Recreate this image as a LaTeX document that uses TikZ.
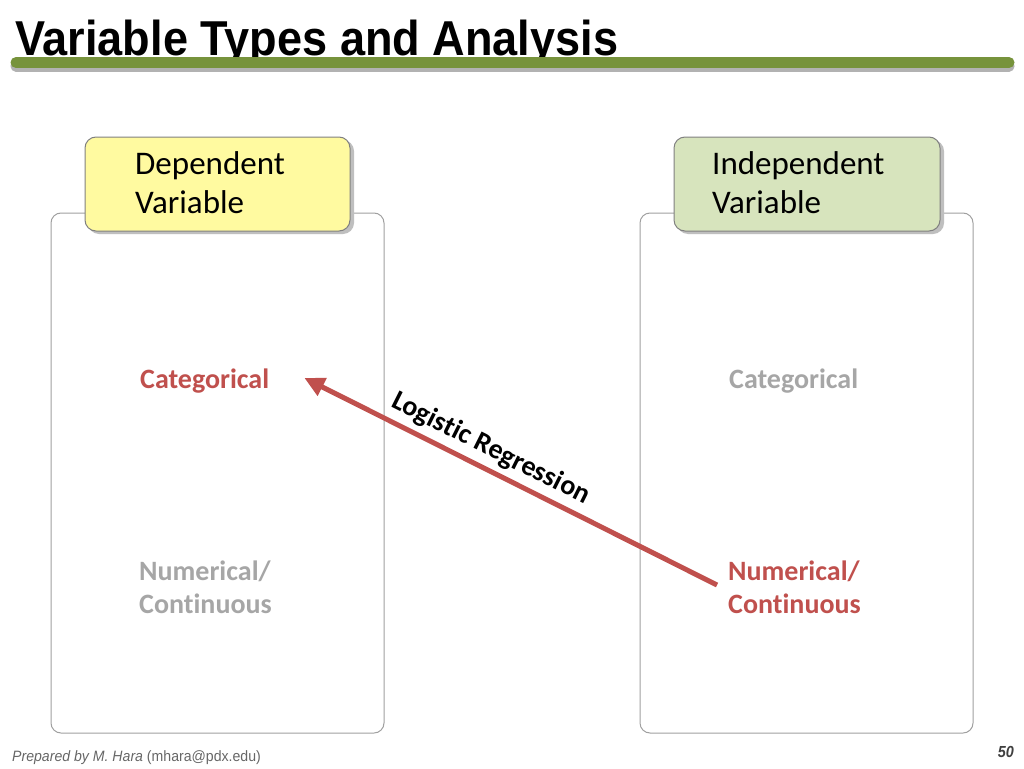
\documentclass[tikz,border=0pt]{standalone}
\usepackage{fontspec}
\setmainfont[Ligatures=NoCommon]{Carlito}
\newfontfamily\arialf{Liberation Sans}
\usetikzlibrary{calc,arrows.meta}
\definecolor{barGreen}{HTML}{77933C}
\definecolor{hdrYellow}{HTML}{FFFAA0}
\definecolor{hdrGreen}{HTML}{D7E4BD}
\definecolor{redTxt}{HTML}{C0504D}
\definecolor{grayTxt}{HTML}{A6A6A6}
\definecolor{boxLine}{HTML}{A0A0A0}
\tikzset{
  panel/.style={draw=boxLine, line width=1pt, rounded corners=10pt, fill=white},
  header/.style={draw=boxLine!80!black, line width=1pt, rounded corners=11pt},
  hdrshadow/.style={fill=black!25, rounded corners=11pt},
  hdrtext/.style={anchor=base west, align=left, inner sep=0pt, font=\fontsize{33}{39}\selectfont},
  cat/.style={anchor=base west, align=left, inner sep=0pt, font=\fontsize{28}{33}\selectfont\bfseries},
  arrowline/.style={draw=redTxt, line width=5pt, -{Triangle[length=20pt,width=19pt]}}
}
\begin{document}
\begin{tikzpicture}[x=1pt,y=-1pt]
\useasboundingbox (0,0) rectangle (1024,768);
% title
\node[anchor=base west, inner sep=0pt, font=\arialf\bfseries\fontsize{49}{52}\selectfont, xscale=0.92] (title) at (15,55.5) {Variable Types and Analysis};
% bar
\draw[line width=11pt, line cap=round, black!30] (16,66) -- (1009,66);
\draw[line width=11pt, line cap=round, barGreen] (16,62.5) -- (1009,62.5);
% panels
\draw[panel] (51,213) rectangle (384,733);
\draw[panel] (640,213) rectangle (973,733);
% headers
\fill[hdrshadow] (88,140) rectangle (354,234);
\draw[header, fill=hdrYellow] (85,137) rectangle (350,231);
\fill[hdrshadow] (677,140) rectangle (944,234);
\draw[header, fill=hdrGreen] (674,137) rectangle (940,231);
\node[hdrtext] (depT) at (135,213) {Dependent\\Variable};
\node[hdrtext] (indT) at (712,213) {Independent\\Variable};
% categories
\node[cat, text=redTxt] (catL) at (140,388) {Categorical};
\node[cat, text=grayTxt] (numL) at (139,613) {Numerical/\\Continuous};
\node[cat, text=grayTxt] (catR) at (729,388) {Categorical};
\node[cat, text=redTxt] (numR) at (728,613) {Numerical/\\Continuous};
% arrow
\coordinate (aS) at ($(numR.base west)+(-11,-28)$);
\coordinate (aE) at ($(catL.base east)+(35,-10)$);
\draw[arrowline] (aS) -- (aE);
\path (aS) -- node[pos=0.57, above=8pt, sloped, inner sep=0pt, font=\fontsize{28}{30}\selectfont\bfseries] (lbl) {Logistic Regression} (aE);
% footer
\node[anchor=base west, inner sep=0pt, text=black!60, font=\arialf\fontsize{15}{16}\selectfont, xscale=0.94] (foot) at (12,761) {\itshape Prepared by M. Hara \upshape(mhara@pdx.edu)};
\node[anchor=base east, inner sep=0pt, text=black!75, font=\arialf\bfseries\itshape\fontsize{16}{17}\selectfont, xscale=0.9] (pg) at (1014,757) {50};
\end{tikzpicture}
\end{document}
